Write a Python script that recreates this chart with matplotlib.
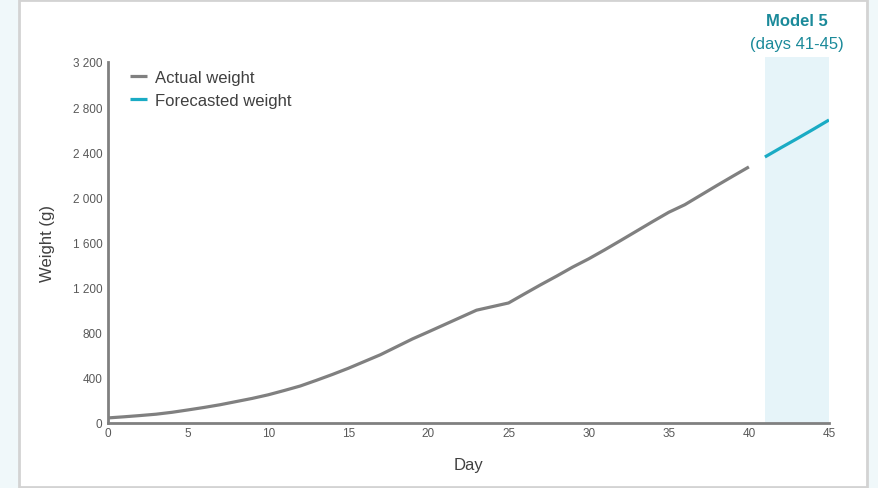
import matplotlib
matplotlib.use("Agg")
import matplotlib.pyplot as plt
from matplotlib.patches import Rectangle
from matplotlib.ticker import FuncFormatter

plt.rcParams['font.family'] = ['Liberation Sans', 'DejaVu Sans']

actual_days = list(range(0, 41))
actual_weight = [45, 55, 66, 78, 95, 116, 138, 162, 190, 218, 250, 288, 328, 378, 430, 485,
                 545, 605, 675, 745, 808, 872, 936, 1000, 1032, 1064, 1145, 1225, 1302, 1382,
                 1455, 1535, 1618, 1702, 1786, 1868, 1935, 2020, 2105, 2188, 2270]
forecast_days = [41, 42, 43, 44, 45]
forecast_weight = [2358, 2440, 2520, 2602, 2686]
y_ticks = [0, 400, 800, 1200, 1600, 2000, 2400, 2800, 3200]
x_ticks = [0, 5, 10, 15, 20, 25, 30, 35, 40, 45]

W, H = 879, 489
fig = plt.figure(figsize=(W / 100, H / 100), dpi=100)
fig.patch.set_facecolor('#F0F8FA')

# white panel with grey border
panel = Rectangle((19 / W, 1 - 488 / H), (867 - 19) / W, (488 - 1) / H,
                  transform=fig.transFigure, facecolor='white', edgecolor='#D3D3D3',
                  linewidth=2, zorder=-10)
fig.patches.append(panel)

x0, x1 = 108, 829
y0, y1 = 424, 63
ax = fig.add_axes([x0 / W, 1 - y0 / H, (x1 - x0) / W, (y0 - y1) / H])
ax.set_facecolor('none')
ax.set_xlim(0, 45)
ax.set_ylim(0, 3200)

# shaded forecast region
ax.add_patch(Rectangle((41, 0), 4, 3240, facecolor='#E6F4F9', edgecolor='none',
                       clip_on=False, zorder=0))

ax.plot(actual_days, actual_weight, color='#808080', linewidth=2.3,
        solid_capstyle='butt', label='Actual weight', zorder=3)
ax.plot(forecast_days, forecast_weight, color='#1AABC4', linewidth=2.3,
        solid_capstyle='butt', label='Forecasted weight', zorder=3)

for s in ['top', 'right']:
    ax.spines[s].set_visible(False)
for s in ['left', 'bottom']:
    ax.spines[s].set_color('#808080')
    ax.spines[s].set_linewidth(2)

ax.set_xticks(x_ticks)
ax.set_yticks(y_ticks)
ax.yaxis.set_major_formatter(FuncFormatter(lambda v, p: f"{int(v):,}".replace(",", " ")))
ax.tick_params(axis='both', length=0, labelsize=8.5, colors='#595959', pad=4)
ax.tick_params(axis='x', pad=3)

ax.set_xlabel('Day', fontsize=12, color='#404040', labelpad=13)
ax.set_ylabel('Weight (g)', fontsize=12, color='#404040', labelpad=13)

leg = ax.legend(loc='upper left', bbox_to_anchor=(0.01, 1.02), frameon=False,
                fontsize=12, handlelength=1.0, handletextpad=0.5, labelspacing=0.5,
                labelcolor='#404040')

ax.text(43, 3565, 'Model 5', ha='center', va='center', fontsize=12, fontweight='bold',
        color='#1B8A9A', clip_on=False)
ax.text(43, 3368, '(days 41-45)', ha='center', va='center', fontsize=12, color='#1B8A9A',
        clip_on=False)

fig.savefig('out.png', dpi=100, facecolor=fig.get_facecolor())
